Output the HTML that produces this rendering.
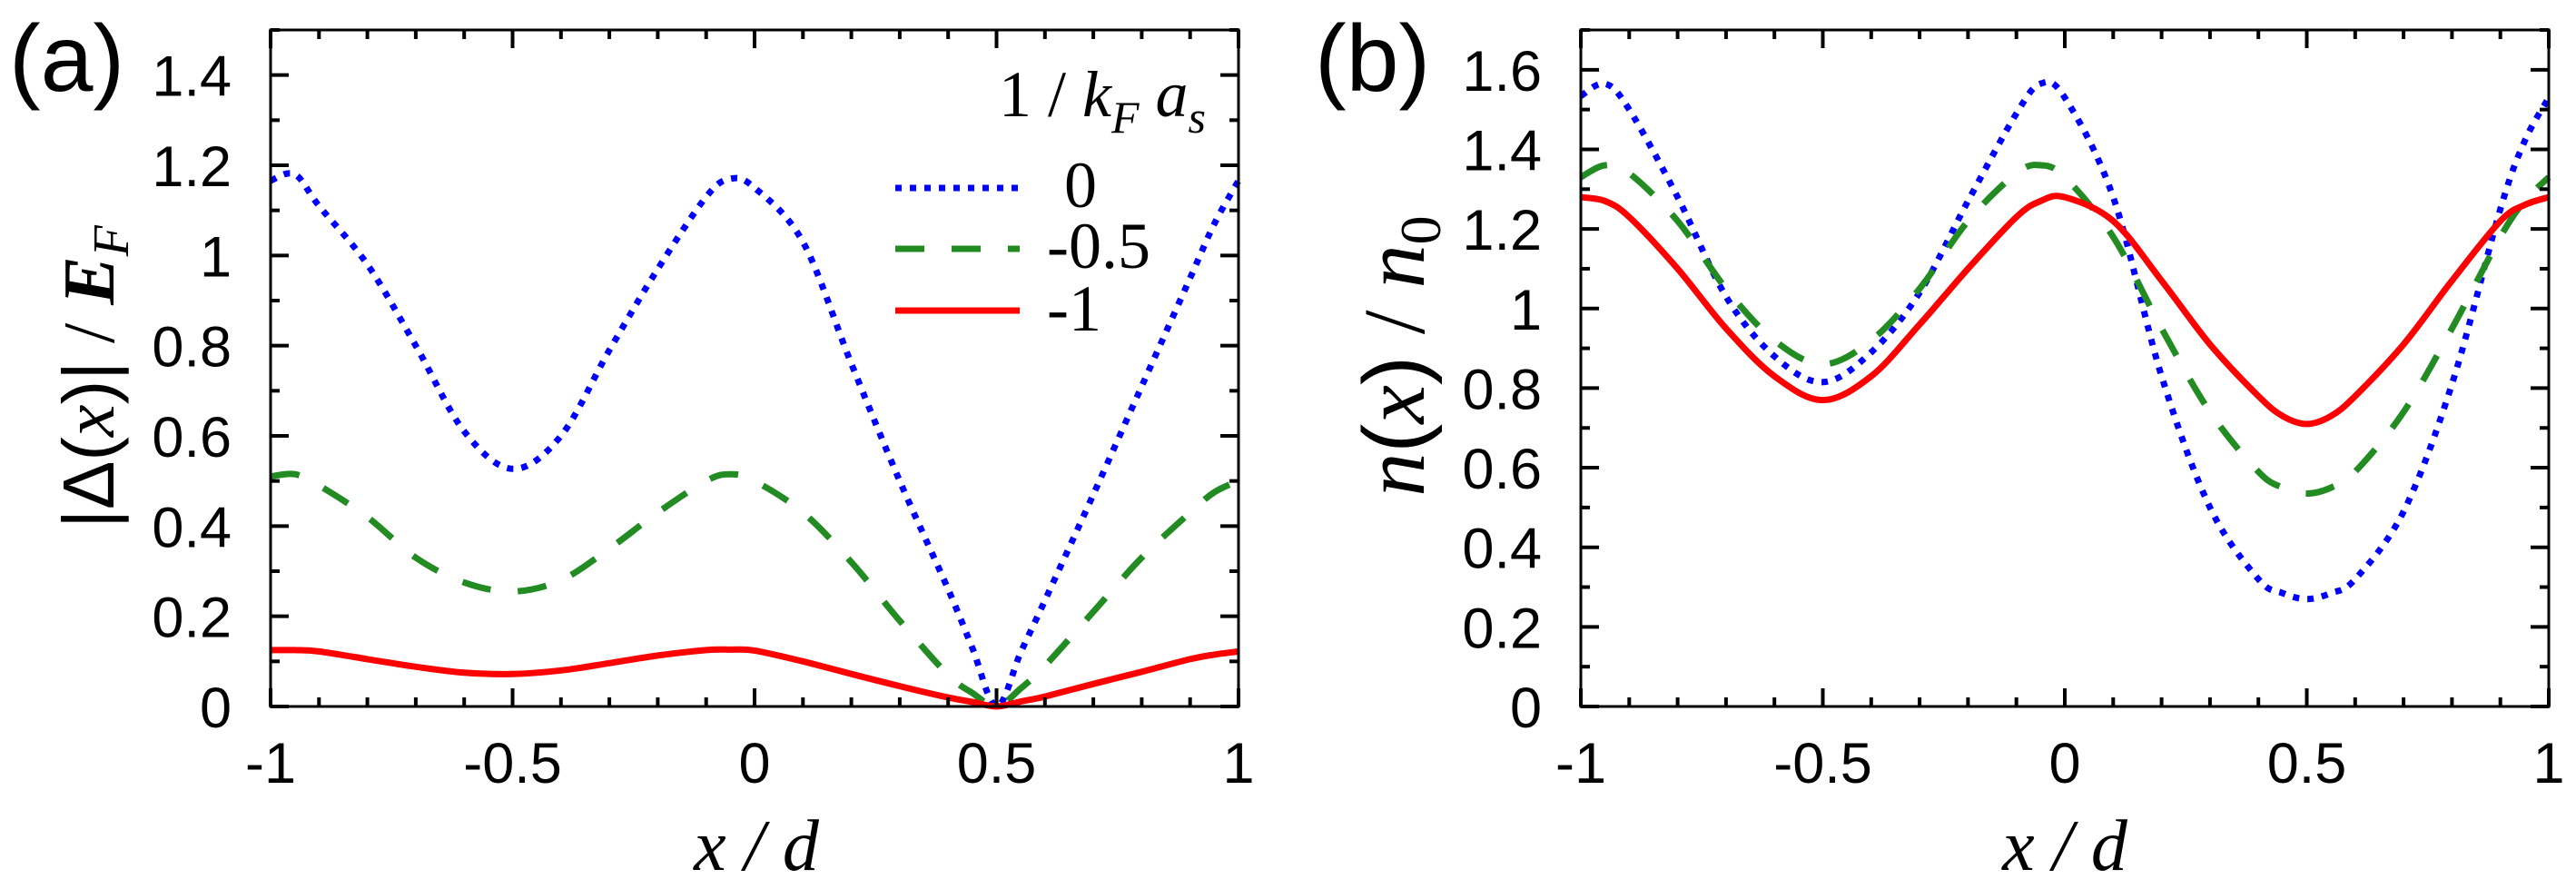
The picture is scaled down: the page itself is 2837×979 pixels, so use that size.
<!DOCTYPE html>
<html><head><meta charset="utf-8"><style>
html,body{margin:0;padding:0;background:#fff;}
svg{display:block;}
text{font-family:"Liberation Sans",sans-serif;}
.ser{font-family:"Liberation Serif",serif;}
</style></head><body>
<svg id="fig" width="2837" height="979" viewBox="0 0 2837 979" xmlns="http://www.w3.org/2000/svg">
<text x="10" y="100" font-size="104">(a)</text>
<text x="1448" y="100" font-size="104">(b)</text>
<text class="ser" transform="translate(125,415) rotate(-90)" text-anchor="middle" font-size="80"><tspan font-family="Liberation Sans">|Δ(</tspan><tspan font-style="italic">x</tspan><tspan font-family="Liberation Sans">)|</tspan> / <tspan font-weight="bold" font-style="italic">E</tspan><tspan font-style="italic" font-size="56" dy="16">F</tspan></text>
<text class="ser" transform="translate(1568,392) rotate(-90)" text-anchor="middle" font-size="96"><tspan font-style="italic">n</tspan><tspan font-family="Liberation Sans">(</tspan><tspan font-style="italic">x</tspan><tspan font-family="Liberation Sans">)</tspan> / <tspan font-style="italic">n</tspan><tspan font-size="64" dy="18">0</tspan></text>
<text class="ser" x="833" y="958" text-anchor="middle" font-size="80" font-style="italic">x / d</text>
<text class="ser" x="2274" y="958" text-anchor="middle" font-size="80" font-style="italic">x / d</text>
<g>
<text class="ser" x="1100" y="128" font-size="72">1 / <tspan font-style="italic">k</tspan><tspan font-style="italic" font-size="50" dy="18">F</tspan><tspan font-style="italic" dy="-18"> a</tspan><tspan font-style="italic" font-size="50" dy="18">s</tspan></text>
<line x1="986" y1="207" x2="1123" y2="207" stroke="#0000ff" stroke-width="7" stroke-dasharray="7 9"/>
<text class="ser" x="1172" y="228" font-size="72">0</text>
<line x1="986" y1="274" x2="1123" y2="274" stroke="#228b22" stroke-width="7" stroke-dasharray="32 30"/>
<text class="ser" x="1153" y="295" font-size="72">-0.5</text>
<line x1="986" y1="342" x2="1123" y2="342" stroke="#ff0000" stroke-width="7"/>
<text class="ser" x="1153" y="364" font-size="72">-1</text>
</g>
</svg>
<script>
const xs = [-1,-0.95,-0.9,-0.8,-0.7,-0.6,-0.5,-0.4,-0.3,-0.2,-0.1,-0.05,0,0.1,0.2,0.3,0.4,0.45,0.5,0.55,0.6,0.7,0.8,0.9,0.95,1];
const gapBlue  = [1.166,1.18,1.11,0.98,0.80,0.61,0.527,0.60,0.79,0.97,1.13,1.17,1.15,1.03,0.76,0.50,0.26,0.13,0.0,0.12,0.235,0.47,0.71,0.95,1.07,1.166];
const gapGreen = [0.51,0.515,0.49,0.42,0.33,0.275,0.255,0.28,0.35,0.43,0.50,0.515,0.50,0.43,0.32,0.19,0.07,0.03,0.0,0.04,0.09,0.21,0.33,0.43,0.475,0.50];
const gapRed   = [0.125,0.125,0.122,0.105,0.088,0.075,0.072,0.08,0.096,0.113,0.125,0.126,0.124,0.10,0.072,0.045,0.02,0.01,0.0,0.011,0.022,0.05,0.077,0.105,0.115,0.122];
const denBlue  = [1.534,1.565,1.50,1.28,1.03,0.88,0.815,0.89,1.04,1.27,1.49,1.565,1.53,1.28,0.83,0.50,0.32,0.285,0.27,0.285,0.32,0.49,0.81,1.25,1.42,1.53];
const denGreen = [1.33,1.36,1.34,1.22,1.05,0.92,0.86,0.92,1.05,1.22,1.34,1.36,1.33,1.18,0.95,0.74,0.59,0.55,0.535,0.55,0.59,0.74,0.95,1.18,1.27,1.33];
const denRed   = [1.28,1.27,1.23,1.10,0.95,0.83,0.77,0.83,0.96,1.10,1.23,1.27,1.28,1.22,1.07,0.91,0.78,0.73,0.71,0.73,0.78,0.91,1.07,1.22,1.26,1.28];
const xTickLabels = ["-1","-0.5","0","0.5","1"];
const yTickLabelsA = ["0","0.2","0.4","0.6","0.8","1","1.2","1.4"];
const yTickLabelsB = ["0","0.2","0.4","0.6","0.8","1","1.2","1.4","1.6"];

const NS = "http://www.w3.org/2000/svg";
const svg = document.getElementById('fig');
function mk(tag, attrs, parent){const e=document.createElementNS(NS,tag);for(const k in attrs)e.setAttribute(k,attrs[k]);(parent||svg).appendChild(e);return e;}

function panel(id, left, right, ymax, ylabels, series){
  const top=33, bottom=778;
  const sx = v => left + (v+1)/2*(right-left);
  const sy = v => bottom - v/ymax*(bottom-top);
  const g = mk('g',{});
  
  
  series.forEach(s=>{
    const pts = xs.map((x,i)=>[sx(x),sy(s.v[i])]);
    let d = 'M'+pts[0][0].toFixed(1)+','+pts[0][1].toFixed(1);
    for(let i=0;i<pts.length-1;i++){
      const p0=pts[Math.max(i-1,0)],p1=pts[i],p2=pts[i+1],p3=pts[Math.min(i+2,pts.length-1)];
      const c1=[p1[0]+(p2[0]-p0[0])/6,p1[1]+(p2[1]-p0[1])/6];
      const c2=[p2[0]-(p3[0]-p1[0])/6,p2[1]-(p3[1]-p1[1])/6];
      d+=' C'+c1.map(n=>n.toFixed(1)).join(',')+' '+c2.map(n=>n.toFixed(1)).join(',')+' '+p2.map(n=>n.toFixed(1)).join(',');
    }
    const p = mk('path',{d:d,fill:'none',stroke:s.c,'stroke-width':7,'stroke-dasharray':s.dash||'none'},g);
    
    
  });
  const fr = mk('rect',{x:left,y:top,width:right-left,height:bottom-top,fill:'none',stroke:'#000','stroke-width':3},g);
  
  
  for(let k=0;k<=20;k++){
    const v=-1+k*0.1, X=sx(v), L=(k%5===0)?20:10;
    mk('line',{x1:X,y1:bottom,x2:X,y2:bottom-L,stroke:'#000','stroke-width':4},g);
    mk('line',{x1:X,y1:top,x2:X,y2:top+L,stroke:'#000','stroke-width':4},g);
  }
  xTickLabels.forEach((t,i)=>{
    const v=-1+i*0.5;
    const tx = mk('text',{x:sx(v),y:862,'text-anchor':'middle','font-size':63},g);
    
    
    tx.textContent=t;
  });
  const n=Math.round(ymax*10);
  for(let k=0;k<=n;k++){
    const Y=sy(k*0.1), L=(k%2===0)?20:10;
    mk('line',{x1:left,y1:Y,x2:left+L,y2:Y,stroke:'#000','stroke-width':4},g);
    mk('line',{x1:right,y1:Y,x2:right-L,y2:Y,stroke:'#000','stroke-width':4},g);
  }
  ylabels.forEach((t,i)=>{
    const ty = mk('text',{x:left-43,y:sy(i*0.2)+23,'text-anchor':'end','font-size':63},g);
    
    
    ty.textContent=t;
  });
}
panel('a',298,1364,1.5,yTickLabelsA,[
  {n:'0',v:gapBlue,c:'#0000ff',dash:'7 9'},
  {n:'m05',v:gapGreen,c:'#228b22',dash:'32 30'},
  {n:'m1',v:gapRed,c:'#ff0000'}]);
panel('b',1741,2807,1.7,yTickLabelsB,[
  {n:'0',v:denBlue,c:'#0000ff',dash:'7 9'},
  {n:'m05',v:denGreen,c:'#228b22',dash:'32 30'},
  {n:'m1',v:denRed,c:'#ff0000'}]);
</script>
</body></html>
